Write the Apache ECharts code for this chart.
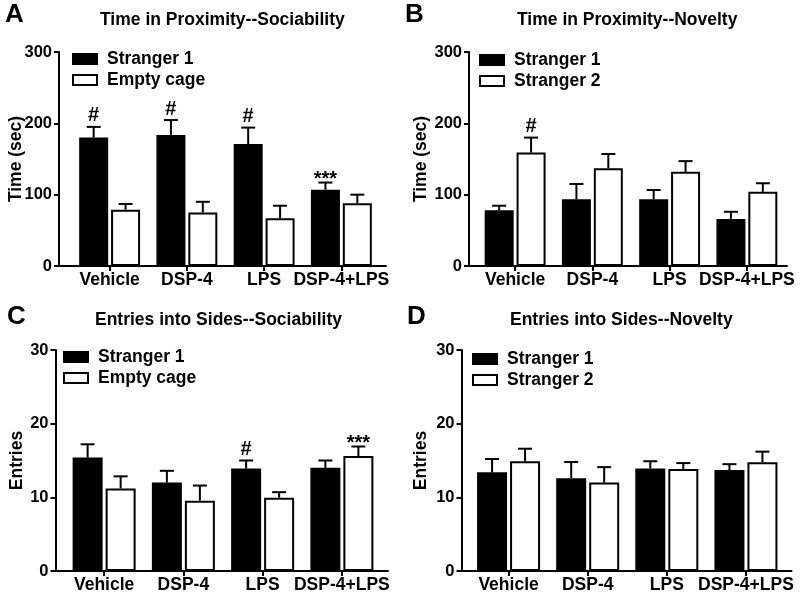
<!DOCTYPE html>
<html>
<head>
<meta charset="utf-8">
<script src="https://cdn.jsdelivr.net/npm/echarts@6/dist/echarts.min.js"></script>
<style>html,body{margin:0;padding:0;background:#fff}#c{width:800px;height:603px}</style>
</head>
<body>
<div id="c"></div>
<script>
// ---------- data ----------
const categories = ['Vehicle', 'DSP-4', 'LPS', 'DSP-4+LPS'];

// A: Time in Proximity--Sociability
const timeSocStranger1 = [180, 183.6, 171, 107];
const timeSocStranger1Sem = [15, 21, 23, 10];
const timeSocStranger1Sig = ['#', '#', '#', '***'];
const timeSocEmpty = [79, 75, 67, 88];
const timeSocEmptySem = [8, 15, 17.5, 12];
const timeSocEmptySig = ['', '', '', ''];

// B: Time in Proximity--Novelty
const timeNovStranger1 = [78, 93.5, 93.5, 66];
const timeNovStranger1Sem = [6.5, 21.5, 13, 10];
const timeNovStranger1Sig = ['', '', '', ''];
const timeNovStranger2 = [159, 137, 132, 104];
const timeNovStranger2Sem = [21, 20, 15, 12];
const timeNovStranger2Sig = ['#', '', '', ''];

// C: Entries into Sides--Sociability
const entSocStranger1 = [15.4, 12.0, 13.9, 14.0];
const entSocStranger1Sem = [1.8, 1.6, 1.1, 1.0];
const entSocStranger1Sig = ['', '', '#', ''];
const entSocEmpty = [11.2, 9.55, 9.95, 15.6];
const entSocEmptySem = [1.65, 2.05, 0.75, 1.3];
const entSocEmptySig = ['', '', '', '***'];

// D: Entries into Sides--Novelty
const entNovStranger1 = [13.4, 12.6, 13.9, 13.7];
const entNovStranger1Sem = [1.8, 2.2, 1.0, 0.8];
const entNovStranger1Sig = ['', '', '', ''];
const entNovStranger2 = [14.9, 12.0, 13.85, 14.75];
const entNovStranger2Sem = [1.7, 2.1, 0.8, 1.45];
const entNovStranger2Sig = ['', '', '', ''];

const timeAxisMax = 300, timeAxisInterval = 100;
const entAxisMax = 30, entAxisInterval = 10;

// ---------- layout ----------
const FONT = '"Liberation Sans", Arial, Helvetica, sans-serif';
const panels = [
  { letter: 'A', title: 'Time in Proximity--Sociability', yName: 'Time (sec)',
    names: ['Stranger 1', 'Empty cage'],
    s1: timeSocStranger1, e1: timeSocStranger1Sem, g1: timeSocStranger1Sig,
    s2: timeSocEmpty, e2: timeSocEmptySem, g2: timeSocEmptySig,
    max: timeAxisMax, interval: timeAxisInterval,
    frame: { left: 59, top: 52, width: 327, height: 214 },
    bars: { left: 71, width: 309 }, bw: 29,
    nameGap: 34, letterPos: [5, 2], titlePos: [100, 11], legendPos: [72, 50] },
  { letter: 'B', title: 'Time in Proximity--Novelty', yName: 'Time (sec)',
    names: ['Stranger 1', 'Stranger 2'],
    s1: timeNovStranger1, e1: timeNovStranger1Sem, g1: timeNovStranger1Sig,
    s2: timeNovStranger2, e2: timeNovStranger2Sem, g2: timeNovStranger2Sig,
    max: timeAxisMax, interval: timeAxisInterval,
    frame: { left: 469, top: 52, width: 318, height: 214 },
    bars: { left: 476.5, width: 309 }, bw: 29,
    nameGap: 39, letterPos: [405, 2], titlePos: [517, 11], legendPos: [479, 51] },
  { letter: 'C', title: 'Entries into Sides--Sociability', yName: 'Entries',
    names: ['Stranger 1', 'Empty cage'],
    s1: entSocStranger1, e1: entSocStranger1Sem, g1: entSocStranger1Sig,
    s2: entSocEmpty, e2: entSocEmptySem, g2: entSocEmptySig,
    max: entAxisMax, interval: entAxisInterval,
    frame: { left: 55.5, top: 350, width: 332.5, height: 221 },
    bars: { left: 64.5, width: 317 }, bw: 30,
    nameGap: 29, letterPos: [7, 304], titlePos: [95, 311], legendPos: [63, 348] },
  { letter: 'D', title: 'Entries into Sides--Novelty', yName: 'Entries',
    names: ['Stranger 1', 'Stranger 2'],
    s1: entNovStranger1, e1: entNovStranger1Sem, g1: entNovStranger1Sig,
    s2: entNovStranger2, e2: entNovStranger2Sem, g2: entNovStranger2Sig,
    max: entAxisMax, interval: entAxisInterval,
    frame: { left: 461.5, top: 350, width: 330, height: 221 },
    bars: { left: 469, width: 316.5 }, bw: 30,
    nameGap: 31.5, letterPos: [407, 304], titlePos: [510, 311], legendPos: [472, 350] }
];

const grids = [], xAxes = [], yAxes = [], series = [], titles = [], legends = [];
const black = '#000';

function errSeries(name, axisIdx, means, sems, sigs, off) {
  return {
    type: 'custom', name: name, xAxisIndex: axisIdx, yAxisIndex: axisIdx, z: 5, clip: false,
    data: means.map((m, i) => [i, m, sems[i]]),
    encode: { x: 0, y: 1 },
    renderItem: function (params, api) {
      const i = api.value(0), m = api.value(1), s = api.value(2);
      const base = api.coord([i, m]);
      const top = api.coord([i, m + s]);
      const x = base[0] + off;
      const children = [
        { type: 'line', shape: { x1: x, y1: base[1], x2: x, y2: top[1] }, style: { stroke: black, lineWidth: 2 } },
        { type: 'line', shape: { x1: x - 7, y1: top[1], x2: x + 7, y2: top[1] }, style: { stroke: black, lineWidth: 2 } }
      ];
      const sig = sigs[params.dataIndex];
      if (sig) {
        const isStar = sig.indexOf('*') >= 0;
        children.push({
          type: 'text', x: x, y: top[1] + (isStar ? 7 : -1),
          style: { text: sig, font: 'bold 20px ' + FONT, fill: black, align: 'center', verticalAlign: 'bottom' }
        });
      }
      return { type: 'group', children: children };
    }
  };
}

panels.forEach((p, k) => {
  const fi = 2 * k, bi = 2 * k + 1;
  grids.push({ left: p.frame.left, top: p.frame.top, width: p.frame.width, height: p.frame.height, containLabel: false, outerBoundsMode: 'none' });
  grids.push({ left: p.bars.left, top: p.frame.top, width: p.bars.width, height: p.frame.height, containLabel: false, outerBoundsMode: 'none' });

  xAxes.push({ gridIndex: fi, type: 'value', min: 0, max: 1,
    axisLine: { show: true, lineStyle: { color: black, width: 2 } },
    axisTick: { show: false }, axisLabel: { show: false }, splitLine: { show: false } });
  yAxes.push({ gridIndex: fi, type: 'value', min: 0, max: p.max, interval: p.interval,
    name: p.yName, nameLocation: 'middle', nameGap: p.nameGap, nameMoveOverlap: false,
    nameTextStyle: { fontSize: 17.5, fontWeight: 'bold', fontFamily: FONT, color: black },
    axisLine: { show: true, lineStyle: { color: black, width: 2 } },
    axisTick: { show: true, length: 5, lineStyle: { color: black, width: 2 } },
    axisLabel: { margin: 7, fontSize: 16.5, fontWeight: 'bold', fontFamily: FONT, color: black },
    splitLine: { show: false } });

  xAxes.push({ gridIndex: bi, type: 'category', data: categories,
    axisLine: { show: false },
    axisTick: { show: true, alignWithLabel: true, length: 5, lineStyle: { color: black, width: 2 } },
    axisLabel: { margin: 5, fontSize: 17.5, fontWeight: 'bold', fontFamily: FONT, color: black, interval: 0 },
    splitLine: { show: false } });
  yAxes.push({ gridIndex: bi, type: 'value', min: 0, max: p.max, show: false, splitLine: { show: false } });

  series.push({ type: 'bar', name: p.names[0], xAxisIndex: bi, yAxisIndex: bi, data: p.s1,
    barWidth: p.bw, barGap: '10%', itemStyle: { color: black, borderColor: black, borderWidth: 2 } });
  series.push({ type: 'bar', name: p.names[1], xAxisIndex: bi, yAxisIndex: bi, data: p.s2,
    barWidth: p.bw, barGap: '10%', itemStyle: { color: '#fff', borderColor: black, borderWidth: 2 } });
  const off = (p.bw * 1.1) / 2;
  series.push(errSeries(p.names[0] + ' SEM ' + p.letter, bi, p.s1, p.e1, p.g1, -off));
  series.push(errSeries(p.names[1] + ' SEM ' + p.letter, bi, p.s2, p.e2, p.g2, off));

  titles.push({ text: p.letter, left: p.letterPos[0], top: p.letterPos[1], padding: 0,
    textStyle: { fontSize: 26, fontWeight: 'bold', fontFamily: FONT, color: black } });
  titles.push({ text: p.title, left: p.titlePos[0], top: p.titlePos[1], padding: 0,
    textStyle: { fontSize: 17.5, fontWeight: 'bold', fontFamily: FONT, color: black } });

  legends.push({ orient: 'vertical', left: p.legendPos[0], top: p.legendPos[1], padding: 0,
    itemWidth: 24, itemHeight: 10, itemGap: 3, icon: 'rect', selectedMode: false,
    data: p.names,
    textStyle: { fontSize: 17.5, fontWeight: 'bold', fontFamily: FONT, color: black, padding: [0, 0, 0, 5] } });
});

const chart = echarts.init(document.getElementById('c'), null, { renderer: 'canvas' });
chart.setOption({
  animation: false,
  backgroundColor: '#fff',
  title: titles,
  legend: legends,
  grid: grids,
  xAxis: xAxes,
  yAxis: yAxes,
  series: series
});
</script>
</body>
</html>
